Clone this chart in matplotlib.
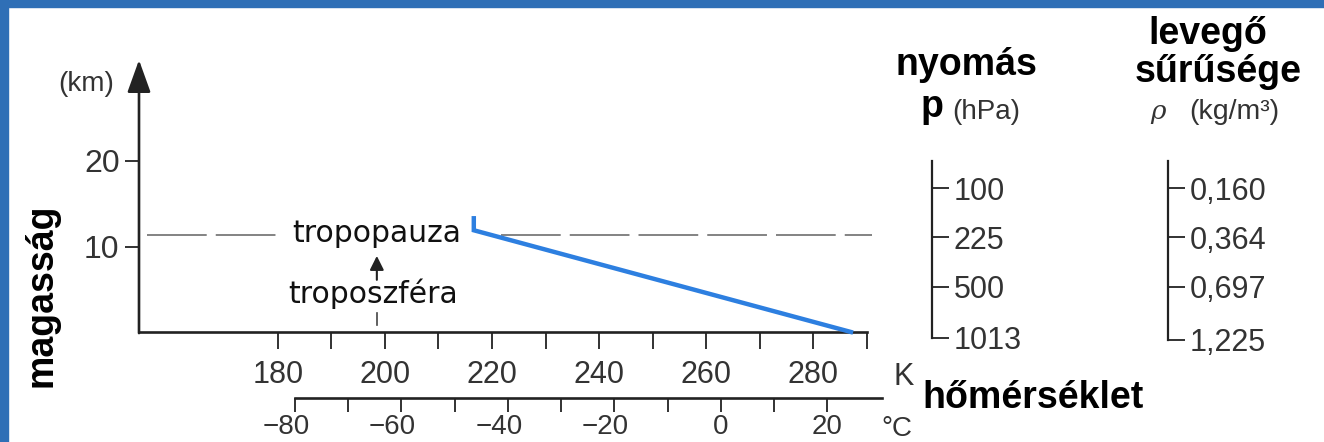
import matplotlib
matplotlib.use('Agg')
import matplotlib.pyplot as plt
import matplotlib.transforms as mtransforms
from matplotlib.patches import Rectangle

# temperature profile (blue line)
profile_K = [287, 216.6, 216.6]
profile_km = [0, 11.9, 13.3]

# tropopause height and dashed segments (K)
tropopause_km = 11.3
tropo_left_K = [155.6, 180.0]
tropo_right_K = [221.6, 291.0]

# axes ticks
kelvin_major = [180, 200, 220, 240, 260, 280]
kelvin_minor = [190, 210, 230, 250, 270, 290]
celsius_major = [-80, -60, -40, -20, 0, 20]
celsius_minor = [-70, -50, -30, -10, 10]
height_ticks = [10, 20]

# side scales
pressure_labels = ['100', '225', '500', '1013']
pressure_km = [16.8, 11.1, 5.3, -0.7]
density_labels = ['0,160', '0,364', '0,697', '1,225']
density_km = [16.8, 11.1, 5.3, -0.9]

W, H = 1324, 442
PX_KM = 8.55
NARROW = ['Liberation Sans Narrow', 'Liberation Sans', 'DejaVu Sans']
BOLD = ['Liberation Sans', 'DejaVu Sans']
TXT = '#333333'
AX = '#222222'

plt.rcParams['lines.scale_dashes'] = False


def rect(left, top, right, bottom):
    # pixel box -> figure fraction
    return [left / W, 1 - bottom / H, (right - left) / W, (bottom - top) / H]


fig = plt.figure(figsize=(W / 100, H / 100), dpi=100)
fig.patch.set_facecolor('white')

# blue frame
fig.patches.append(Rectangle((0, 1 - 7 / H), 1, 7 / H, transform=fig.transFigure, color='#2f6fb6', zorder=10))
fig.patches.append(Rectangle((0, 0), 8 / W, 1, transform=fig.transFigure, color='#2f6fb6', zorder=10))

# main axes: K vs km
ax = fig.add_axes(rect(139, 60, 867, 332))
ax.set_xlim(154.1, 290)
ax.set_ylim(0, 272 / PX_KM)
ax.patch.set_alpha(0)
for s in ['top', 'right', 'left']:
    ax.spines[s].set_visible(False)
ax.spines['bottom'].set_linewidth(1.9)
ax.spines['bottom'].set_color(AX)
ax.annotate('', xy=(0, 1), xytext=(0, -0.004), xycoords='axes fraction',
            arrowprops=dict(arrowstyle='-|>,head_length=1.0,head_width=0.36', lw=1.9,
                            color=AX, mutation_scale=20, shrinkA=0, shrinkB=0))

ax.set_xticks(kelvin_major)
ax.set_xticks(kelvin_minor, minor=True)
ax.set_xticklabels([str(v) for v in kelvin_major], family=NARROW, fontsize=22, color=TXT)
ax.tick_params(axis='x', which='both', direction='out', length=12.5, width=1.3, color=AX, pad=8)
ax.set_yticks(height_ticks)
ax.set_yticklabels([str(v) for v in height_ticks], family=NARROW, fontsize=23, color=TXT)
ax.tick_params(axis='y', direction='out', length=10, width=1.3, color=AX, pad=4)

# tropopause dashed line
for seg in (tropo_left_K, tropo_right_K):
    ax.plot(seg, [tropopause_km, tropopause_km], color='#7a7a7a', lw=1.3,
            dashes=(43, 6.5), clip_on=False)

# temperature profile
ax.plot(profile_K, profile_km, color='#2d7fe0', lw=3.2, solid_joinstyle='miter', clip_on=False, zorder=5)

ax.text(182.7, 10.5, 'tropopauza', family='DejaVu Sans', fontsize=21.5, color='#111111', va='baseline')
ax.text(181.9, 3.4, 'troposzféra', family='DejaVu Sans', fontsize=21.5, color='#111111', va='baseline')
ax.annotate('', xy=(198.5, 8.9), xytext=(198.5, 6.1),
            arrowprops=dict(arrowstyle='-|>,head_length=0.6,head_width=0.3', lw=1.5,
                            color=AX, mutation_scale=14, shrinkA=0, shrinkB=0))
ax.plot([198.5, 198.5], [0.8, 2.2], color='#444444', lw=1.2)

# celsius axis
axc = fig.add_axes(rect(295, 300, 882, 398))
axc.set_xlim(-80, 30.3)
axc.set_yticks([])
axc.patch.set_alpha(0)
for s in ['top', 'right', 'left']:
    axc.spines[s].set_visible(False)
axc.spines['bottom'].set_linewidth(1.9)
axc.spines['bottom'].set_color(AX)
axc.set_xticks(celsius_major)
axc.set_xticks(celsius_minor, minor=True)
axc.set_xticklabels([str(v).replace('-', '\u2212') for v in celsius_major],
                    family=NARROW, fontsize=20, color=TXT)
axc.tick_params(axis='x', which='both', direction='out', length=10, width=1.3, color=AX, pad=1.5)
shift = mtransforms.ScaledTranslation(-9 / 100, 0, fig.dpi_scale_trans)
for lab in axc.get_xticklabels():
    if lab.get_text().startswith('\u2212'):
        lab.set_transform(lab.get_transform() + shift)


# side scales
def side_scale(x_px, heights, labels):
    a = fig.add_axes(rect(x_px, 60, x_px + 0.2, 332 + 2 * PX_KM))
    a.set_ylim(-2, 272 / PX_KM)
    a.set_xticks([])
    a.patch.set_alpha(0)
    for s in ['top', 'bottom', 'left']:
        a.spines[s].set_visible(False)
    a.spines['right'].set_bounds(min(heights), 20)
    a.spines['right'].set_linewidth(1.6)
    a.spines['right'].set_color(AX)
    a.yaxis.tick_right()
    a.set_yticks(heights)
    a.set_yticklabels(labels, family=NARROW, fontsize=22, color=TXT)
    a.tick_params(axis='y', direction='out', length=12.5, width=1.3, color=AX, pad=3)
    return a


side_scale(932, pressure_km, pressure_labels)
side_scale(1168, density_km, density_labels)

# titles and unit labels
def ftext(x_px, y_px, s, **kw):
    fig.text(x_px / W, 1 - y_px / H, s, **kw)


ftext(895, 75, 'nyomás', family=BOLD, fontsize=27, weight='bold', va='baseline')
ftext(921, 117, 'p', family=BOLD, fontsize=27, weight='bold', va='baseline')
ftext(952, 119, '(hPa)', family=NARROW, fontsize=20, color=TXT, va='baseline')
ftext(1148, 44, 'levegő', family=BOLD, fontsize=27, weight='bold', va='baseline')
ftext(1135, 82, 'sűrűsége', family=BOLD, fontsize=27, weight='bold', va='baseline')
ftext(1150, 119, 'ρ', family='DejaVu Serif', fontsize=19, style='italic', color=TXT, va='baseline')
ftext(1189, 119, '(kg/m³)', family=NARROW, fontsize=20.5, color=TXT, va='baseline')
ftext(922, 408, 'hőmérséklet', family=BOLD, fontsize=27, weight='bold', va='baseline')
ftext(58, 91, '(km)', family=NARROW, fontsize=20, color=TXT, va='baseline')
ftext(893, 385, 'K', family=NARROW, fontsize=22, color=TXT, va='baseline')
ftext(881, 436, '°C', family=NARROW, fontsize=20, color=TXT, va='baseline')
fig.text(42 / W, 1 - 295 / H, 'magasság', family=BOLD, fontsize=27, weight='bold',
         rotation=90, ha='center', va='center')

fig.savefig('out.png', dpi=100)
